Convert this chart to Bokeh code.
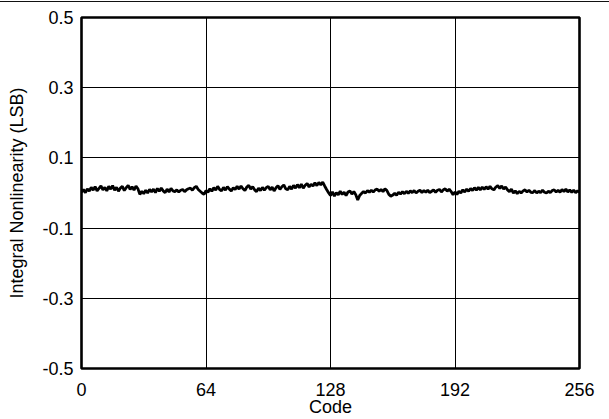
from bokeh.plotting import figure
from bokeh.models import FixedTicker, Div
from bokeh.layouts import column
from bokeh.embed import file_html
from bokeh.resources import INLINE

codes = list(range(257))
inl = [
    0.002, 0.010, 0.001, 0.012, 0.005, 0.016, 0.008, 0.018, 0.006, 0.013, 0.020, 0.009, 0.016, 0.006, 0.019, 0.011,
    0.021, 0.008, 0.016, 0.005, 0.014, 0.019, 0.007, 0.015, 0.022, 0.010, 0.018, 0.008, 0.020, 0.012, -0.004, 0.005,
    -0.002, 0.008, 0.000, 0.010, 0.003, 0.011, 0.001, 0.013, 0.005, 0.014, 0.006, 0.001, 0.011, 0.003, 0.013, 0.006,
    0.004, 0.009, 0.003, 0.008, 0.010, 0.004, 0.009, 0.012, 0.014, 0.008, 0.015, 0.019, 0.010, 0.005, 0.000, -0.004,
    0.007, 0.002, 0.012, 0.005, 0.015, 0.008, 0.019, 0.010, 0.006, 0.016, 0.008, 0.018, 0.011, 0.006, 0.015, 0.010,
    0.019, 0.011, 0.020, 0.012, 0.007, 0.017, 0.022, 0.011, 0.018, 0.009, 0.004, 0.014, 0.007, 0.016, 0.008, 0.015,
    0.019, 0.009, 0.017, 0.006, 0.015, 0.021, 0.010, 0.018, 0.023, 0.012, 0.009, 0.019, 0.011, 0.022, 0.014, 0.024,
    0.015, 0.025, 0.014, 0.022, 0.027, 0.017, 0.025, 0.020, 0.029, 0.021, 0.030, 0.023, 0.031, 0.020, 0.010, 0.001,
    -0.007, 0.003, -0.009, 0.001, -0.005, 0.005, -0.004, 0.002, -0.007, 0.003, 0.006, -0.003, 0.004, -0.005, -0.020, -0.007,
    -0.001, 0.004, 0.000, 0.007, 0.002, 0.008, 0.003, 0.009, 0.011, 0.005, 0.010, 0.004, 0.012, 0.007, -0.004, -0.009,
    -0.006, -0.001, -0.006, 0.002, -0.003, 0.004, -0.002, 0.005, -0.001, 0.006, 0.001, 0.007, 0.000, 0.005, 0.008, 0.001,
    0.007, 0.002, 0.008, 0.001, 0.005, 0.009, 0.002, 0.008, 0.010, 0.003, 0.009, 0.012, 0.005, 0.011, 0.004, -0.005,
    0.003, -0.004, 0.005, 0.000, 0.009, 0.003, 0.011, 0.005, 0.013, 0.007, 0.015, 0.008, 0.016, 0.009, 0.017, 0.010,
    0.018, 0.011, 0.019, 0.012, 0.009, 0.017, 0.021, 0.013, 0.020, 0.011, 0.017, 0.009, 0.004, 0.011, 0.000, 0.006,
    -0.002, 0.005, 0.000, 0.006, 0.009, 0.003, 0.008, 0.002, 0.001, 0.007, 0.000, 0.005, 0.001, 0.008, 0.002, 0.000,
    0.005, 0.001, 0.007, 0.009, 0.003, 0.008, 0.002, 0.010, 0.004, 0.011, 0.003, 0.009, 0.002, 0.008, 0.001, 0.006,
    0.003,
]
x_ticks = [0, 64, 128, 192, 256]
y_ticks = [-0.5, -0.3, -0.1, 0.1, 0.3, 0.5]
y_tick_labels = ["-0.5", "-0.3", "-0.1", "0.1", "0.3", "0.5"]
x_title = "Code"
y_title = "Integral Nonlinearity (LSB)"

FONT = "Liberation Sans"

top_rule = Div(text="", width=609, height=2, margin=0,
               styles={"border-bottom": "1px solid #111", "box-sizing": "border-box"})

p = figure(width=609, height=417, output_backend="svg", toolbar_location=None,
           x_range=(0, 256), y_range=(-0.5, 0.5),
           min_border_left=81, min_border_right=30, min_border_top=15, min_border_bottom=47)

p.line(codes, inl, line_color="black", line_width=2.8)

p.outline_line_color = "black"
p.outline_line_width = 2.6
p.background_fill_color = "white"
p.border_fill_color = "white"

for ax in (p.xaxis, p.yaxis):
    ax.axis_line_color = None
    ax.major_tick_line_color = None
    ax.minor_tick_line_color = None
    ax.major_tick_out = 0
    ax.major_tick_in = 0
    ax.minor_tick_out = 0
    ax.minor_tick_in = 0
    ax.major_label_text_font = FONT
    ax.major_label_text_font_size = "18px"
    ax.major_label_text_color = "black"
    ax.axis_label_text_font = FONT
    ax.axis_label_text_font_size = "18px"
    ax.axis_label_text_font_style = "normal"
    ax.axis_label_text_color = "black"

p.xaxis.ticker = FixedTicker(ticks=x_ticks)
p.yaxis.ticker = FixedTicker(ticks=y_ticks)
p.yaxis.major_label_overrides = {t: s for t, s in zip(y_ticks, y_tick_labels)}
p.xaxis.major_label_standoff = 14
p.yaxis.major_label_standoff = 8
p.xaxis.axis_label = x_title
p.xaxis.axis_label_standoff = -2
p.yaxis.axis_label = y_title
p.yaxis.axis_label_standoff = 12

p.xgrid.ticker = FixedTicker(ticks=x_ticks)
p.ygrid.ticker = FixedTicker(ticks=y_ticks)
p.xgrid.grid_line_color = "black"
p.ygrid.grid_line_color = "black"
p.xgrid.grid_line_width = 1
p.ygrid.grid_line_width = 1

layout = column(top_rule, p, spacing=0)

open("out.html", "w").write(file_html(layout, INLINE))
